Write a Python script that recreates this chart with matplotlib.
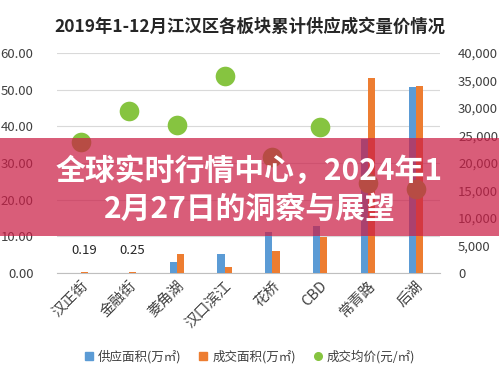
import matplotlib
matplotlib.use("Agg")
import matplotlib.pyplot as plt
import numpy as np
from matplotlib.lines import Line2D
from matplotlib.patches import Rectangle
from matplotlib.ticker import FuncFormatter

plt.rcParams["font.family"] = ["Noto Sans CJK SC", "DejaVu Sans"]

# Data
districts = ["汉正街", "金融街", "菱角湖", "汉口滨江", "花桥", "CBD", "常青路", "后湖"]
supply_area = [0.0, 0.0, 3.0, 5.2, 11.3, 12.8, 36.5, 50.7]      # 万㎡
deal_area = [0.19, 0.25, 5.2, 1.6, 6.1, 9.9, 53.1, 51.0]        # 万㎡
deal_price = [23800, 29400, 26900, 35800, 21100, 26600, 16400, 15200]  # 元/㎡

blue = "#5B9BD5"
orange = "#ED7D31"
green = "#86C440"
text_col = "#404040"

fig = plt.figure(figsize=(4.99, 3.75), dpi=100)
ax = fig.add_axes([57 / 499, 102 / 375, 383 / 499, 220 / 375])

x = np.arange(len(districts))
width = 0.15

ax.bar(x - width / 2, supply_area, width, color=blue, zorder=3)
bars_deal = ax.bar(x + width / 2, deal_area, width, color=orange, zorder=3)

# data labels on the two tiny bars
for bar, val in zip(list(bars_deal)[:2], deal_area[:2]):
    ax.annotate(f"{val:.2f}", (bar.get_x() + bar.get_width() / 2, val),
                xytext=(0, 11), textcoords="offset points",
                ha="center", va="bottom", fontsize=9.5, color="#262626")

ax.set_xlim(-0.5, len(districts) - 0.5)
ax.set_ylim(0, 60)
ax.set_yticks(np.arange(0, 61, 10))
ax.yaxis.set_major_formatter(FuncFormatter(lambda v, p: f"{v:.2f}"))
ax.grid(axis="y", color="#D9D9D9", linewidth=0.8, zorder=0)
for s in ["top", "right", "left"]:
    ax.spines[s].set_visible(False)
ax.spines["bottom"].set_color("#BFBFBF")
ax.tick_params(axis="y", length=0, pad=17, labelsize=9.5, labelcolor=text_col)
ax.tick_params(axis="x", length=0, pad=4)
ax.set_xticks(x)
ax.set_xticklabels(districts, rotation=45, ha="right", rotation_mode="anchor",
                   fontsize=10.5, color=text_col)

ax2 = ax.twinx()
ax2.scatter(x, deal_price, s=200, color=green, zorder=4, linewidths=0)
ax2.set_ylim(0, 40000)
ax2.set_yticks(np.arange(0, 40001, 5000))
ax2.yaxis.set_major_formatter(FuncFormatter(lambda v, p: f"{v:,.0f}"))
for s in ax2.spines.values():
    s.set_visible(False)
ax2.tick_params(axis="y", length=0, pad=13, labelsize=9.5, labelcolor=text_col)

fig.text(0.5, 1 - 27 / 375, "2019年1-12月江汉区各板块累计供应成交量价情况",
         ha="center", va="center", fontsize=12.5, fontweight="bold", color="#262626")

handles = [
    Line2D([], [], marker="s", linestyle="none", color=blue, markersize=5.5),
    Line2D([], [], marker="s", linestyle="none", color=orange, markersize=5.5),
    Line2D([], [], marker="o", linestyle="none", color=green, markersize=5.5),
]
fig.legend(handles, ["供应面积(万㎡)", "成交面积(万㎡)", "成交均价(元/㎡)"],
           loc="center", bbox_to_anchor=(0.5, 1 - 357 / 375), ncol=3,
           frameon=False, fontsize=9, handlelength=0.8, handletextpad=0.3,
           columnspacing=1.4, labelcolor=text_col)

# pink banner across the middle
banner = Rectangle((0, (375 - 236) / 375), 1, 98 / 375, transform=fig.transFigure,
                   facecolor=(203 / 255, 30 / 255, 70 / 255), alpha=0.72,
                   edgecolor="none", zorder=5)
fig.patches.append(banner)
fig.text(0.5, 1 - 190 / 375, "全球实时行情中心，2024年1\n2月27日的洞察与展望",
         ha="center", va="center", fontsize=21.5, fontweight="bold", color="white",
         linespacing=1.32, zorder=6)

plt.savefig("out.png", dpi=100)
